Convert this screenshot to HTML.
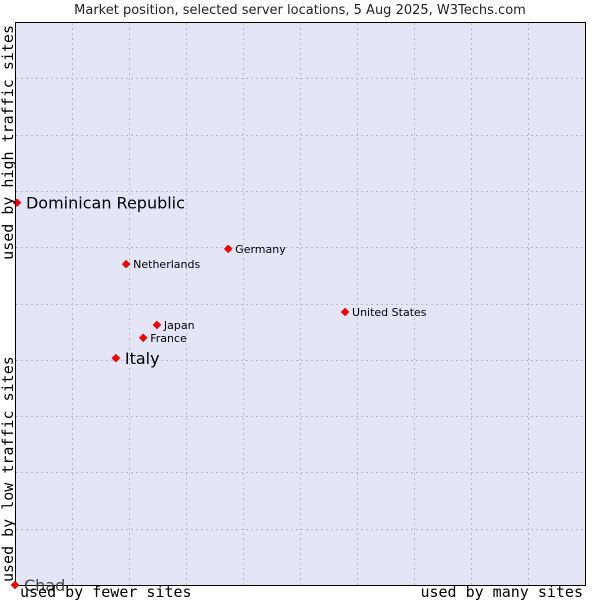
<!DOCTYPE html>
<html><head><meta charset="utf-8"><style>body{margin:0;background:#fff}svg{display:block}</style></head>
<body>
<svg id="c" width="600" height="600" xmlns="http://www.w3.org/2000/svg">
<text x="300" y="14" text-anchor="middle" font-family="DejaVu Sans, sans-serif" font-size="13" fill="#222">Market position, selected server locations, 5 Aug 2025, W3Techs.com</text>
<rect x="15.5" y="22.5" width="570" height="563" fill="#e4e6f8" stroke="#000"/>
<g id="grid"></g>
<g id="pts"></g>
<text x="20" y="597" font-family="DejaVu Sans Mono, monospace" font-size="15" fill="#000">used by fewer sites</text>
<text x="583" y="597" text-anchor="end" font-family="DejaVu Sans Mono, monospace" font-size="15" fill="#000">used by many sites</text>
<text transform="translate(13,582) rotate(-90)" font-family="DejaVu Sans Mono, monospace" font-size="15" fill="#000">used by low traffic sites</text>
<text transform="translate(13,25) rotate(-90)" text-anchor="end" font-family="DejaVu Sans Mono, monospace" font-size="15" fill="#000">used by high traffic sites</text>
</svg>
<script>
const countries=["Dominican Republic","Netherlands","Germany","United States","Japan","France","Italy","Chad"];
const xValues=[0.35,19.5,37.4,57.9,24.9,22.5,17.7,0];
const yValues=[67.9,57.0,59.7,48.5,46.2,43.9,40.3,0];
const highlighted=[true,false,false,false,false,false,true,true];
const L=15,R=585,T=22,B=585;
const sx=v=>L+v/100*(R-L), sy=v=>B-v/100*(B-T);
const ns="http://www.w3.org/2000/svg";
const g=document.getElementById('grid'),p=document.getElementById('pts');
for(let i=1;i<10;i++){
 const x=L+i*57;
 const l=document.createElementNS(ns,'line');
 
 
 l.setAttribute('x1',x+.5);l.setAttribute('x2',x+.5);l.setAttribute('y1',T+1);l.setAttribute('y2',B);
 l.setAttribute('stroke','#bbb');l.setAttribute('stroke-dasharray','2,3');g.appendChild(l);
 const y=Math.round(B-i*(B-T)/10)+0.5;
 const m=document.createElementNS(ns,'line');
 
 
 m.setAttribute('x1',L+1);m.setAttribute('x2',R);m.setAttribute('y1',y);m.setAttribute('y2',y);
 m.setAttribute('stroke','#bbb');m.setAttribute('stroke-dasharray','2,3');g.appendChild(m);
}
countries.forEach((c,i)=>{
 const x=sx(xValues[i]),y=sy(yValues[i]);
 const d=document.createElementNS(ns,'path');
 
 
 d.setAttribute('d',`M${x-4},${y}L${x},${y-4}L${x+4},${y}L${x},${y+4}Z`);
 d.setAttribute('fill','#f00');d.setAttribute('stroke','#c00');d.setAttribute('stroke-width','0.5');
 p.appendChild(d);
 const t=document.createElementNS(ns,'text');
 
 
 const big=highlighted[i];
 t.setAttribute('x',x+(big?9:7));t.setAttribute('y',y+(big?6:4));
 t.setAttribute('font-family','DejaVu Sans, sans-serif');
 t.setAttribute('font-size',big?16:11);
 t.setAttribute('fill',c==="Chad"?'#444':'#000');
 t.textContent=c;p.appendChild(t);
});
</script>
</body></html>
